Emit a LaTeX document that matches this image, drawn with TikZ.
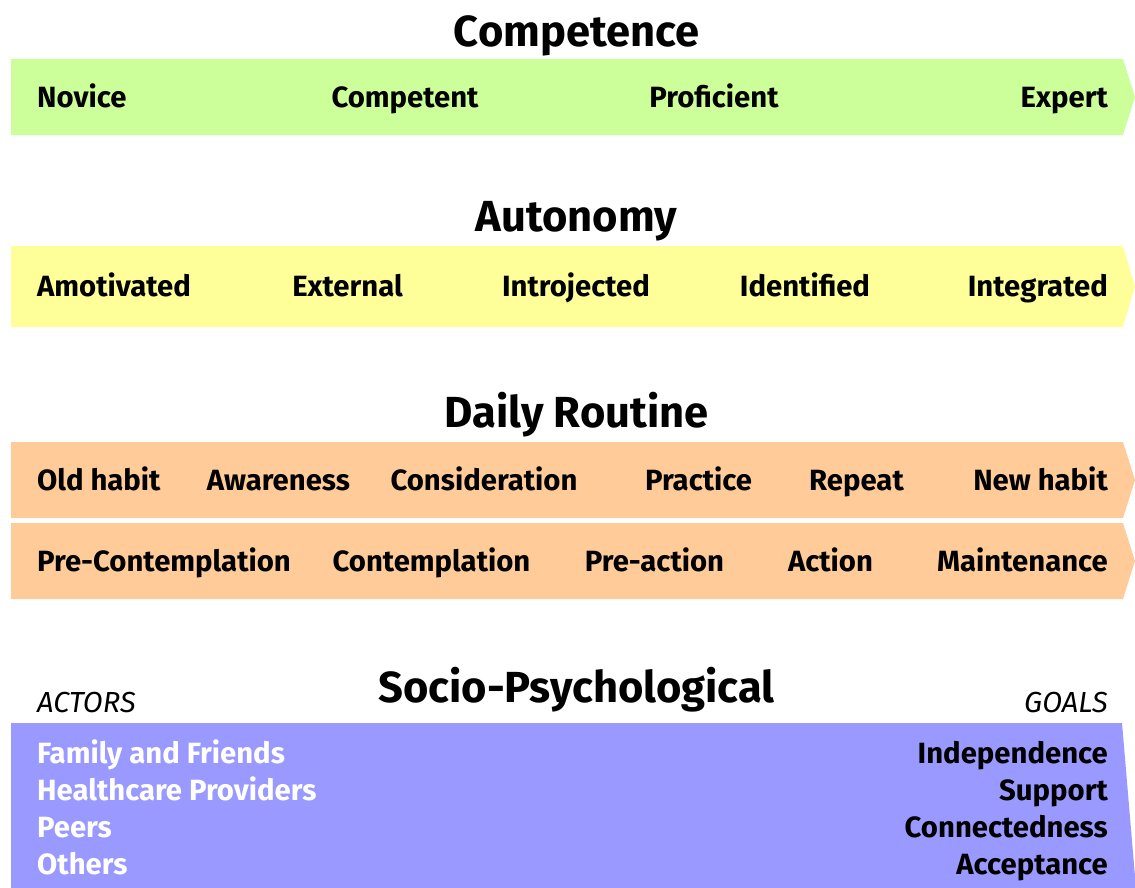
\documentclass[tikz,border=0pt]{standalone}
\usepackage{fontspec}
\setmainfont{Fira Sans}
\begin{document}
\begin{tikzpicture}[x=1pt,y=-1pt,
  title/.style={font=\bfseries\fontsize{43.5}{43.5}\selectfont, anchor=base, inner sep=0pt},
  lbl/.style={font=\bfseries\fontsize{29.3}{29.3}\selectfont, anchor=base, inner sep=0pt},
  lblL/.style={lbl, anchor=base west},
  lblR/.style={lbl, anchor=base east},
  wlblL/.style={lblL, text=white},
  itl/.style={font=\itshape\fontsize{29}{29}\selectfont, inner sep=0pt},
  bar/.style={draw=none}
]
\definecolor{cgreen}{RGB}{204,255,153}
\definecolor{cyellow}{RGB}{255,255,153}
\definecolor{corange}{RGB}{255,204,153}
\definecolor{cpurple}{RGB}{153,153,255}
\useasboundingbox (0,0) rectangle (1135,887);
\clip (0,0) rectangle (1135,887);

% bars
\fill[cgreen]  (11,59)  -- (1123,59)  -- (1135,97)  -- (1123,135) -- (11,135) -- cycle;
\fill[cyellow] (11,246) -- (1123,246) -- (1135,286.5) -- (1123,327) -- (11,327) -- cycle;
\fill[corange] (11,442) -- (1123,442) -- (1135,480) -- (1123,518) -- (11,518) -- cycle;
\fill[corange] (11,523) -- (1123,523) -- (1135,561) -- (1123,599) -- (11,599) -- cycle;
\fill[cpurple] (11,723) -- (1122,723) -- (1137,900) -- (11,900) -- cycle;

% titles
\node[title] (tComp) at (576.5,46) {Competence};
\node[title] (tAut)  at (576.5,231) {Autonomy};
\node[title] (tDR)   at (576.5,427) {Daily Routine};
\node[title] (tSP)   at (576.5,702) {Socio-Psychological};

% competence
\node[lblL] (c1) at (37,107) {Novice};
\node[lbl]  (c2) at (405,107) {Competent};
\node[lbl]  (c3) at (714,107) {Proficient};
\node[lblR] (c4) at (1108,107) {Expert};

% autonomy
\node[lblL] (a1) at (37,296) {Amotivated};
\node[lbl]  (a2) at (347.5,296) {External};
\node[lbl]  (a3) at (576,296) {Introjected};
\node[lbl]  (a4) at (805,296) {Identified};
\node[lblR] (a5) at (1108,296) {Integrated};

% daily routine row 1
\node[lblL] (d1) at (37,490) {Old habit};
\node[lbl]  (d2) at (278.5,490) {Awareness};
\node[lbl]  (d3) at (484,490) {Consideration};
\node[lbl]  (d4) at (698.5,490) {Practice};
\node[lbl]  (d5) at (856.5,490) {Repeat};
\node[lblR] (d6) at (1108,490) {New habit};

% daily routine row 2
\node[lblL] (e1) at (37,571) {Pre-Contemplation};
\node[lbl]  (e2) at (431.5,571) {Contemplation};
\node[lbl]  (e3) at (654.5,571) {Pre-action};
\node[lbl]  (e4) at (830.5,571) {Action};
\node[lblR] (e5) at (1108,571) {Maintenance};

% socio-psychological
\node[itl, anchor=base west] (actors) at (37,712) {ACTORS};
\node[itl, anchor=base east] (goals) at (1108,712) {GOALS};
\node[wlblL] (s1) at (37,763) {Family and Friends};
\node[wlblL] (s2) at (37,800) {Healthcare Providers};
\node[wlblL] (s3) at (37,837) {Peers};
\node[wlblL] (s4) at (37,874) {Others};
\node[lblR] (g1) at (1108,763) {Independence};
\node[lblR] (g2) at (1108,800) {Support};
\node[lblR] (g3) at (1108,837) {Connectedness};
\node[lblR] (g4) at (1108,874) {Acceptance};
\end{tikzpicture}
\end{document}
